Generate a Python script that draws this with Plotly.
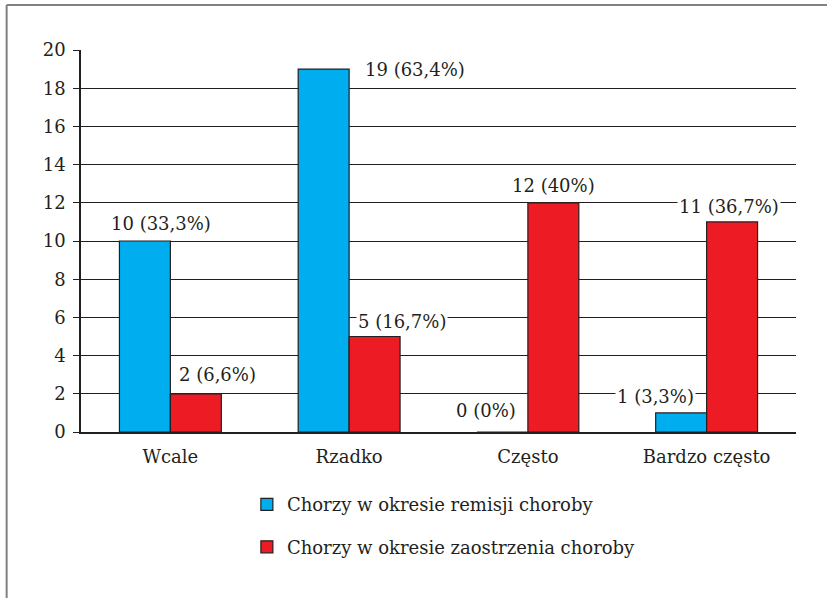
import plotly.graph_objects as go

# Częstość występowania objawu w dwóch grupach chorych
categories = ["Wcale", "Rzadko", "Często", "Bardzo często"]
remisja = [10, 19, 0, 1]
remisja_pct = ["33,3", "63,4", "0", "3,3"]
zaostrzenie = [2, 5, 12, 11]
zaostrzenie_pct = ["6,6", "16,7", "40", "36,7"]
series_names = ["Chorzy w okresie remisji choroby", "Chorzy w okresie zaostrzenia choroby"]
y_ticks = [0, 2, 4, 6, 8, 10, 12, 14, 16, 18, 20]

INK = "#231f20"
FONT = "DejaVu Serif"
FS = 18

fig = go.Figure()
fig.add_trace(go.Bar(
    x=categories, y=remisja, name=series_names[0], legendgroup="a",
    marker=dict(color="#00aeef", line=dict(color=INK, width=1.2)),
))
fig.add_trace(go.Bar(
    x=categories, y=zaostrzenie, name=series_names[1], legendgroup="b",
    marker=dict(color="#ed1c24", line=dict(color=INK, width=1.2)),
))

# label offsets (px) relative to each category centre / bar value
rem_off = [(-9, 18), (66, 0), (-42, 22), (-51, 16)]
zao_off = [(47, 19), (53, 15), (26, 17), (22, 15)]

annotations = []
for cat, v, p, (dx, dy) in zip(categories, remisja, remisja_pct, rem_off):
    annotations.append(dict(x=cat, y=v, xref="x", yref="y", text=f"{v} ({p}%)",
                            showarrow=False, xshift=dx, yshift=dy, bgcolor="white",
                            xanchor="center", yanchor="middle", borderpad=1))
for cat, v, p, (dx, dy) in zip(categories, zaostrzenie, zaostrzenie_pct, zao_off):
    annotations.append(dict(x=cat, y=v, xref="x", yref="y", text=f"{v} ({p}%)",
                            showarrow=False, xshift=dx, yshift=dy, bgcolor="white",
                            xanchor="center", yanchor="middle", borderpad=1))

fig.update_layout(
    width=827, height=598,
    margin=dict(l=81, r=31, t=50, b=166),
    paper_bgcolor="white", plot_bgcolor="white",
    font=dict(family=FONT, size=FS, color=INK),
    barmode="group", bargap=0.43, bargroupgap=0,
    annotations=annotations,
    showlegend=True,
    legend=dict(x=0.232, y=-0.142, xanchor="left", yanchor="top",
                traceorder="grouped", tracegroupgap=16,
                font=dict(family=FONT, size=FS, color=INK)),
    shapes=[
        dict(type="line", xref="paper", yref="paper", x0=-0.104, x1=1.05, y0=1.118, y1=1.118,
             line=dict(color="#808080", width=2)),
        dict(type="line", xref="paper", yref="paper", x0=-0.104, x1=-0.104, y0=1.118, y1=-0.5,
             line=dict(color="#808080", width=2)),
    ],
)
fig.update_xaxes(showline=True, linecolor=INK, linewidth=1.5, ticks="", showgrid=False,
                 ticklabelstandoff=8,
                 tickfont=dict(family=FONT, size=FS, color=INK))
fig.update_yaxes(range=[0, 20], tickvals=y_ticks, showgrid=True, gridcolor=INK, gridwidth=1.3,
                 showline=True, linecolor=INK, linewidth=1.5, ticks="outside", ticklen=6,
                 tickcolor=INK, tickwidth=1.3, zeroline=False, ticklabelstandoff=4,
                 tickfont=dict(family=FONT, size=FS, color=INK))

fig.write_html("out.html")
